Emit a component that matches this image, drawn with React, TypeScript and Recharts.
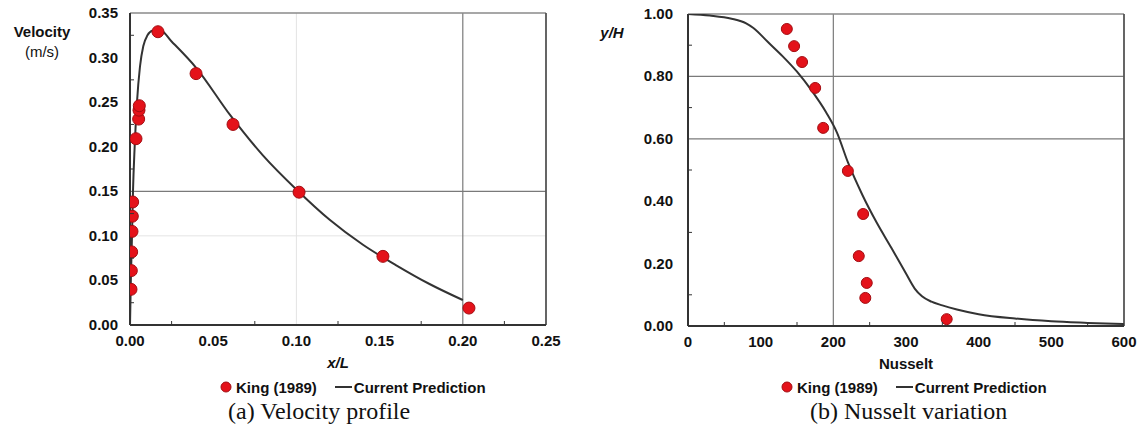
import { ComposedChart, Line, Scatter, XAxis, YAxis, ReferenceLine, Label } from 'recharts';

// King (1989) measured velocity, x/L vs m/s
const kingVelX = [0.0006, 0.0008, 0.001, 0.0012, 0.0014, 0.0016, 0.0036, 0.0052, 0.0054, 0.0056, 0.0168, 0.0397, 0.0619, 0.1016, 0.152, 0.2037];
const kingVelY = [0.040, 0.061, 0.082, 0.105, 0.122, 0.138, 0.209, 0.231, 0.241, 0.246, 0.329, 0.282, 0.225, 0.149, 0.077, 0.019];

// current prediction, velocity
const predVelX = [0, 0.0005, 0.0012, 0.0018, 0.0028, 0.0042, 0.006, 0.008, 0.0105, 0.0135, 0.018, 0.025, 0.04, 0.06, 0.08, 0.1, 0.12, 0.14, 0.16, 0.18, 0.2];
const predVelY = [0, 0.05, 0.10, 0.15, 0.20, 0.25, 0.29, 0.313, 0.325, 0.33, 0.331, 0.318, 0.288, 0.236, 0.19, 0.152, 0.118, 0.09, 0.067, 0.046, 0.028];

// King (1989) measured Nusselt number vs y/H
const kingNuX = [136, 146, 157, 175, 186, 220, 241, 235, 246, 244, 356];
const kingNuY = [0.952, 0.897, 0.846, 0.763, 0.635, 0.497, 0.359, 0.224, 0.138, 0.090, 0.022];

// current prediction, Nusselt
const predNuX = [0, 30, 60, 80, 90, 110, 130, 150, 170, 190, 205, 220, 240, 260, 280, 300, 312, 322, 335, 350, 370, 400, 450, 500, 550, 600];
const predNuY = [1.0, 0.995, 0.985, 0.97, 0.955, 0.91, 0.865, 0.815, 0.755, 0.685, 0.62, 0.525, 0.42, 0.33, 0.25, 0.168, 0.12, 0.095, 0.078, 0.066, 0.053, 0.038, 0.024, 0.015, 0.01, 0.006];

const velXTicks = [0, 0.025, 0.05, 0.075, 0.1, 0.125, 0.15, 0.175, 0.2, 0.225, 0.25];
const velYTicks = [0, 0.025, 0.05, 0.075, 0.1, 0.125, 0.15, 0.175, 0.2, 0.225, 0.25, 0.275, 0.3, 0.325, 0.35];
const nuXTicks = [0, 50, 100, 150, 200, 250, 300, 350, 400, 450, 500, 550, 600];
const nuYTicks = [0, 0.1, 0.2, 0.3, 0.4, 0.5, 0.6, 0.7, 0.8, 0.9, 1.0];

const zip = (xs: number[], ys: number[]) => xs.map((x, i) => ({ x, y: ys[i] }));

const FONT = '"Liberation Sans", Arial, sans-serif';
const AXIS = '#333';
const GRID = '#7a7a7a';
const FAINT = '#e4e4e4';
const RED = '#e4121a';

function BottomTick({ x, y, payload, step, digits }: any) {
  const major = Math.round(payload.value / step) % 2 === 0;
  if (!major) return <line x1={x} y1={y} x2={x} y2={y - 4} stroke={AXIS} strokeWidth={1} />;
  return (
    <text x={x} y={y + 21} textAnchor="middle" fontFamily={FONT} fontWeight="bold" fontSize={15} fill="#111">
      {payload.value.toFixed(digits)}
    </text>
  );
}

function LeftTick({ x, y, payload, step, gap }: any) {
  const major = Math.round(payload.value / step) % 2 === 0;
  if (!major) return <line x1={x} y1={y} x2={x + 4} y2={y} stroke={AXIS} strokeWidth={1} />;
  return (
    <text x={x - gap} y={y + 5} textAnchor="end" fontFamily={FONT} fontWeight="bold" fontSize={15} fill="#111">
      {payload.value.toFixed(2)}
    </text>
  );
}

function Dot({ cx, cy, r }: any) {
  return <circle cx={cx} cy={cy} r={r} fill={RED} stroke="#a30d12" strokeWidth={1} />;
}

function LegendRow({ left }: { left: number }) {
  const text = { fontFamily: FONT, fontWeight: 'bold' as const, fontSize: 15, color: '#111' };
  return (
    <div style={{ position: 'absolute', left, top: 377, height: 20, display: 'flex', alignItems: 'center', whiteSpace: 'nowrap' }}>
      <svg width={12} height={12} style={{ marginRight: 4 }}>
        <circle cx={6} cy={6} r={5} fill={RED} stroke="#a30d12" />
      </svg>
      <span style={text}>King (1989)</span>
      <svg width={18} height={12} style={{ marginLeft: 18, marginRight: 1 }}>
        <line x1={0} y1={6} x2={17} y2={6} stroke="#333" strokeWidth={2} />
      </svg>
      <span style={text}>Current Prediction</span>
    </div>
  );
}

function Caption({ left, children }: { left: number; children: string }) {
  return (
    <div style={{ position: 'absolute', left, top: 398, fontFamily: '"Liberation Serif", "Times New Roman", serif', fontSize: 24, lineHeight: '27px', color: '#111', whiteSpace: 'nowrap' }}>
      {children}
    </div>
  );
}

function VelocityChart() {
  return (
    <ComposedChart width={570} height={380} margin={{ top: 13, right: 24, bottom: 0, left: 0 }}>
      <XAxis type="number" dataKey="x" domain={[0, 0.25]} ticks={velXTicks} interval={0} tickSize={0} tickMargin={0}
        stroke={AXIS} strokeWidth={2} height={55} allowDataOverflow
        tick={(p: any) => <BottomTick {...p} step={0.025} digits={2} />}>
        <Label content={() => (
          <text x={338} y={368} textAnchor="middle" fontFamily={FONT} fontWeight="bold" fontStyle="italic" fontSize={15} fill="#111">x/L</text>
        )} />
      </XAxis>
      <YAxis type="number" dataKey="y" domain={[0, 0.35]} ticks={velYTicks} interval={0} tickSize={0} tickMargin={0}
        stroke={AXIS} strokeWidth={2} width={130} allowDataOverflow
        tick={(p: any) => <LeftTick {...p} step={0.025} gap={12} />}>
        <Label content={() => (
          <g fontFamily={FONT} fontSize={15} fill="#111">
            <text x={42} y={37} textAnchor="middle" fontWeight="bold">Velocity</text>
            <text x={42} y={57} textAnchor="middle">(m/s)</text>
          </g>
        )} />
      </YAxis>
      <ReferenceLine x={0.1} stroke={FAINT} strokeWidth={1} />
      <ReferenceLine y={0.1} stroke={FAINT} strokeWidth={1} />
      <ReferenceLine x={0.2} stroke={GRID} strokeWidth={1.2} />
      <ReferenceLine y={0.15} stroke={GRID} strokeWidth={1.2} />
      <ReferenceLine y={0.35} stroke="#8a8a8a" strokeWidth={1.5} />
      <ReferenceLine x={0.25} stroke="#555" strokeWidth={1.8} />
      <Line data={zip(predVelX, predVelY)} dataKey="y" type="monotone" stroke="#333" strokeWidth={2} dot={false} isAnimationActive={false} />
      <Scatter data={zip(kingVelX, kingVelY)} dataKey="y" shape={(p: any) => <Dot {...p} r={6} />} isAnimationActive={false} />
    </ComposedChart>
  );
}

function NusseltChart() {
  return (
    <ComposedChart width={571} height={380} margin={{ top: 14, right: 17, bottom: 0, left: 0 }}>
      <XAxis type="number" dataKey="x" domain={[0, 600]} ticks={nuXTicks} interval={0} tickSize={0} tickMargin={0}
        stroke={AXIS} strokeWidth={2} height={54} allowDataOverflow
        tick={(p: any) => <BottomTick {...p} step={50} digits={0} />}>
        <Label content={() => (
          <text x={336} y={369} textAnchor="middle" fontFamily={FONT} fontWeight="bold" fontSize={15} fill="#111">Nusselt</text>
        )} />
      </XAxis>
      <YAxis type="number" dataKey="y" domain={[0, 1]} ticks={nuYTicks} interval={0} tickSize={0} tickMargin={0}
        stroke={AXIS} strokeWidth={2} width={118} allowDataOverflow
        tick={(p: any) => <LeftTick {...p} step={0.1} gap={15} />}>
        <Label content={() => (
          <text x={42} y={38} textAnchor="middle" fontFamily={FONT} fontWeight="bold" fontStyle="italic" fontSize={15} fill="#111">y/H</text>
        )} />
      </YAxis>
      <ReferenceLine y={0.8} stroke={GRID} strokeWidth={1.2} />
      <ReferenceLine y={0.6} stroke={GRID} strokeWidth={1.2} />
      <ReferenceLine x={200} stroke={GRID} strokeWidth={1.2} />
      <ReferenceLine y={1} stroke="#8a8a8a" strokeWidth={1.5} />
      <ReferenceLine x={600} stroke="#555" strokeWidth={1.8} />
      <Line data={zip(predNuX, predNuY)} dataKey="y" type="monotone" stroke="#333" strokeWidth={2} dot={false} isAnimationActive={false} />
      <Scatter data={zip(kingNuX, kingNuY)} dataKey="y" shape={(p: any) => <Dot {...p} r={5.5} />} isAnimationActive={false} />
    </ComposedChart>
  );
}

export default function App() {
  return (
    <div style={{ position: 'absolute', left: 0, top: 0, width: 1141, height: 436, background: '#fff', overflow: 'hidden' }}>
      <div style={{ position: 'absolute', left: 0, top: 0 }}>
        <VelocityChart />
      </div>
      <div style={{ position: 'absolute', left: 570, top: 0 }}>
        <NusseltChart />
      </div>
      <LegendRow left={220} />
      <LegendRow left={781} />
      <Caption left={228}>(a) Velocity profile</Caption>
      <Caption left={810}>(b) Nusselt variation</Caption>
    </div>
  );
}
